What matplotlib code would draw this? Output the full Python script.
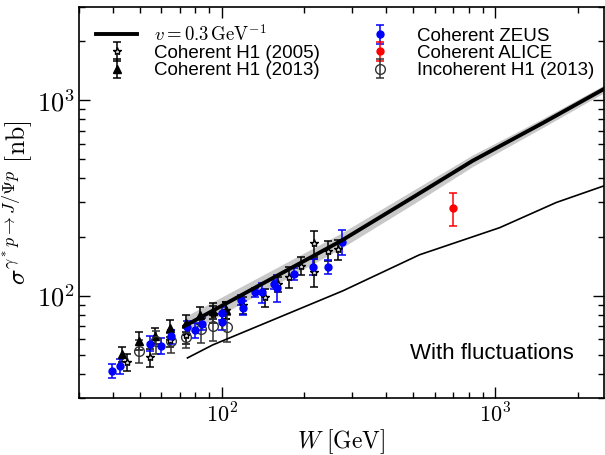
import matplotlib
matplotlib.use('Agg')
import matplotlib.pyplot as plt
import numpy as np
from matplotlib.ticker import FuncFormatter, LogLocator, NullFormatter

plt.rcParams['mathtext.fontset'] = 'cm'
plt.rcParams['font.family'] = ['Liberation Sans', 'DejaVu Sans']

# Courbe v = 0.3 GeV^-1 (avec bande grise)
model_W = [73, 273, 500, 826, 1500, 2500]
model_sig = [70, 191, 319, 490, 768, 1143]
model_up = [78, 209, 346, 525, 810, 1195]
model_lo = [63, 175, 294, 458, 728, 1093]

# Courbe "with fluctuations"
fluct_W = [74.8, 92.4, 277, 528, 1038, 1672, 2500]
fluct_sig = [48.1, 56.0, 106, 162, 223, 300, 365]

# Coherent ZEUS
zeus_W = [39.7, 42.3, 54.5, 59.8, 65.0, 74.8, 79.9, 84.9, 100, 100, 117.4, 119.7,
          132.4, 140.0, 154.6, 159.6, 184.0, 214.8, 245.0, 274.0]
zeus_sig = [41.4, 43.6, 57.0, 55.6, 62.0, 68.9, 66.5, 71.7, 81.6, 73.7, 95.4, 86.5,
            104, 104, 114.7, 110, 129, 141, 140.6, 188.8]
zeus_err = [3.5, 4, 5, 5, 5, 5.5, 6, 5, 6, 7, 6, 7, 6, 12.5, 6, 17.5, 9, 14, 12, 28]

# Coherent H1 (2005)
h105_W = [44.8, 54.5, 64.7, 74.2, 92.4, 103.4, 119.0, 144.1, 161.0, 176.4, 194.6,
          217.8, 217.8, 245.0, 266.7]
h105_sig = [45.6, 48.4, 59.4, 63.0, 80.6, 84.5, 90.0, 98.0, 114.7, 125.0, 142.3,
            185.9, 133.1, 169.8, 173.0]
h105_err = [4.5, 5, 5, 6, 8, 8, 9, 10, 10, 15, 15, 28, 22, 20, 20]

# Coherent H1 (2013)
h113_W = [43.0, 49.8, 57.0, 64.7, 73.8, 83.1, 92.9, 103.4]
h113_sig = [50.3, 58.9, 62.4, 68.5, 72.5, 80.0, 83.8, 84.5]
h113_err = [4.5, 6, 6, 7, 7, 8, 8, 8]

# Incoherent H1 (2013)
inc_W = [49.8, 57.3, 65.0, 73.8, 83.8, 92.9, 104.3]
inc_sig = [52.4, 58.4, 58.9, 61.2, 67.5, 69.7, 68.9]
inc_err = [7, 8, 8, 7, 10, 11, 11]

# Coherent ALICE
alice_W = [703]
alice_sig = [282]
alice_err = [54]

fig = plt.figure(figsize=(6.05, 4.55), dpi=100)
ax = fig.add_axes([79 / 605, 1 - 398 / 455, 525 / 605, 391 / 455])

ax.fill_between(model_W, model_lo, model_up, color='#c8c8c8', lw=0, zorder=1)
h_model, = ax.plot(model_W, model_sig, color='black', lw=2.8, zorder=4,
                   label=r'$v = 0.3\,\mathrm{GeV}^{-1}$')
ax.plot(fluct_W, fluct_sig, color='black', lw=1.2, zorder=4)

eb = dict(capsize=3, elinewidth=1.1, capthick=1.1, ls='none', zorder=3)
h_h105 = ax.errorbar(h105_W, h105_sig, yerr=h105_err, fmt='*', color='black',
                     mfc='#dddddd', mec='black', ms=6, label='Coherent H1 (2005)', **eb)
h_h113 = ax.errorbar(h113_W, h113_sig, yerr=h113_err, fmt='^', color='black',
                     ms=6, label='Coherent H1 (2013)', **eb)
h_inc = ax.errorbar(inc_W, inc_sig, yerr=inc_err, fmt='o', color='#333333',
                    mfc='none', mec='#333333', ms=7, label='Incoherent H1 (2013)', **eb)
h_zeus = ax.errorbar(zeus_W, zeus_sig, yerr=zeus_err, fmt='o', color='blue',
                     ms=5, label='Coherent ZEUS', **eb)
h_alice = ax.errorbar(alice_W, alice_sig, yerr=alice_err, fmt='o', color='red',
                      ms=5, label='Coherent ALICE', **eb)

ax.set_xscale('log')
ax.set_yscale('log')
ax.set_xlim(30, 2500)
ax.set_ylim(30, 3000)

def puissance(v, pos):
    e = int(round(np.log10(v)))
    if abs(v - 10 ** e) < 1e-6 * v:
        return r'$10^{%d}$' % e
    return ''

for axis in (ax.xaxis, ax.yaxis):
    axis.set_major_locator(LogLocator(base=10))
    axis.set_minor_locator(LogLocator(base=10, subs=np.arange(2, 10)))
    axis.set_major_formatter(FuncFormatter(puissance))
    axis.set_minor_formatter(NullFormatter())

ax.tick_params(which='both', direction='in', top=True, right=True, width=1)
ax.tick_params(which='major', length=8)
ax.tick_params(which='minor', length=4)
ax.tick_params(axis='x', labelsize=16, pad=4)
ax.tick_params(axis='y', labelsize=19, pad=3)
for s in ax.spines.values():
    s.set_linewidth(1.2)

ax.set_xlabel(r'$W\ [\mathrm{GeV}]$', fontsize=17, labelpad=0)
ax.set_ylabel(r'$\sigma^{\gamma^* p \rightarrow J/\Psi p}\ [\mathrm{nb}]$', fontsize=18.5,
              labelpad=2)

ax.text(0.63, 0.115, 'With fluctuations', transform=ax.transAxes, fontsize=16,
        ha='left', va='center')

handles = [h_model, h_h105, h_h113, h_zeus, h_alice, h_inc]
ax.legend(handles, [h.get_label() for h in handles],
          ncol=2, frameon=False, fontsize=13.5, loc='upper left',
          bbox_to_anchor=(0.0, 1.0), handlelength=2.2, handletextpad=0.9,
          columnspacing=2.1, labelspacing=0.0)

fig.savefig('out.png', dpi=100)
